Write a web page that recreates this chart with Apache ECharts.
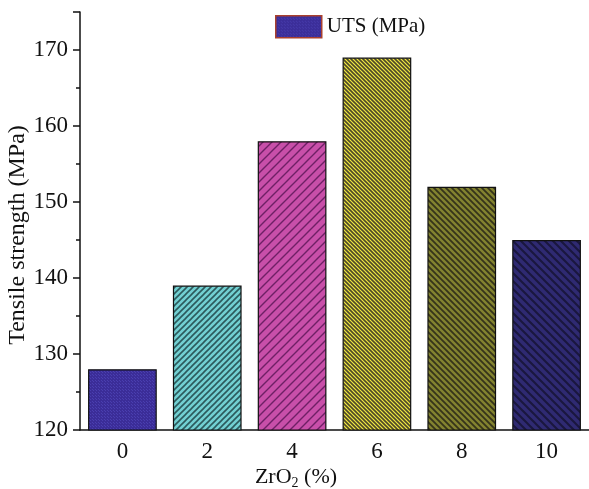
<!DOCTYPE html>
<html>
<head>
<meta charset="utf-8">
<style>
  html, body { margin: 0; padding: 0; background: #ffffff; }
  #chart { width: 589px; height: 489px; }
</style>
<script src="https://cdn.jsdelivr.net/npm/echarts@6/dist/echarts.min.js"></script>
</head>
<body>
<div id="chart"></div>
<script>
// ZrO2 content (%) and ultimate tensile strength (MPa)
const categories = ['0', '2', '4', '6', '8', '10'];
const utsValues = [128, 139, 158, 169, 152, 145];
const seriesName = 'UTS (MPa)';

// Hatch fills for each bar: base colour, line colour, tile period, line width, direction
const hatchSpecs = [
  { base: '#3b2d98', line: '#4a3fb0', period: 3, width: 1, dir: 'check' },
  { base: '#72d0d2', line: '#2c5a5c', period: 6, width: 1.6, dir: '/' },
  { base: '#c84fa9', line: '#6e2065', period: 9, width: 1.4, dir: '/' },
  { base: '#f2ea42', line: '#4e4828', period: 4, width: 1.6, dir: '\\' },
  { base: '#838330', line: '#36341a', period: 6, width: 1.8, dir: '\\' },
  { base: '#2f2a72', line: '#1a173e', period: 8, width: 2, dir: '\\' }
];

function makeHatch(spec) {
  const p = spec.period;
  const c = document.createElement('canvas');
  c.width = p; c.height = p;
  const g = c.getContext('2d');
  g.fillStyle = spec.base;
  g.fillRect(0, 0, p, p);
  if (spec.dir === 'check') {
    g.fillStyle = spec.line;
    g.fillRect(0, 0, 1, 1);
    g.fillRect(2, 2, 1, 1);
    return c;
  }
  g.strokeStyle = spec.line;
  g.lineWidth = spec.width;
  g.beginPath();
  if (spec.dir === '/') {
    g.moveTo(-1, p + 1); g.lineTo(p + 1, -1);
    g.moveTo(-1, 1); g.lineTo(1, -1);
    g.moveTo(p - 1, p + 1); g.lineTo(p + 1, p - 1);
  } else {
    g.moveTo(-1, -1); g.lineTo(p + 1, p + 1);
    g.moveTo(p - 1, -1); g.lineTo(p + 1, 1);
    g.moveTo(-1, p - 1); g.lineTo(1, p + 1);
  }
  g.stroke();
  return c;
}

const barData = utsValues.map((v, i) => ({
  value: v,
  itemStyle: { color: { image: makeHatch(hatchSpecs[i]), repeat: 'repeat' } }
}));

const font = "'Liberation Serif', 'Times New Roman', serif";
const chart = echarts.init(document.getElementById('chart'));

chart.setOption({
  backgroundColor: '#ffffff',
  animation: false,
  grid: { left: 80, right: -6, top: 12, bottom: 59 },
  legend: {
    data: [{
      name: seriesName,
      itemStyle: {
        color: { image: makeHatch(hatchSpecs[0]), repeat: 'repeat' },
        borderColor: '#a8402e',
        borderWidth: 1.5
      }
    }],
    left: 270,
    top: 10,
    itemWidth: 46,
    itemHeight: 22,
    itemGap: 6,
    icon: 'rect',
    textStyle: { fontFamily: font, fontSize: 21, color: '#111' }
  },
  xAxis: [
    {
      type: 'category',
      data: categories,
      axisLine: { lineStyle: { color: '#111', width: 1.5 } },
      axisTick: { alignWithLabel: true, length: 7, lineStyle: { color: '#111', width: 1.5 } },
      axisLabel: { fontFamily: font, fontSize: 23, color: '#111', margin: 10 }
    },
    {
      // boundary ticks between the categories
      type: 'category',
      data: categories,
      position: 'bottom',
      axisLine: { show: false },
      axisTick: { length: 4, lineStyle: { color: '#111', width: 1.5 } },
      axisLabel: { show: false }
    }
  ],
  yAxis: {
    type: 'value',
    min: 120,
    max: 175,
    interval: 10,
    splitLine: { show: false },
    axisLine: { show: true, lineStyle: { color: '#111', width: 1.5 } },
    axisTick: { show: true, length: 7, lineStyle: { color: '#111', width: 1.5 } },
    minorTick: { show: true, splitNumber: 2, length: 4, lineStyle: { color: '#111', width: 1.5 } },
    axisLabel: { fontFamily: font, fontSize: 23, color: '#111', margin: 12, showMaxLabel: false }
  },
  series: [{
    name: seriesName,
    type: 'bar',
    data: barData,
    barWidth: '81%',
    itemStyle: { borderColor: '#111', borderWidth: 1.2 }
  }],
  graphic: [
    {
      type: 'text',
      x: 18,
      y: 235,
      rotation: Math.PI / 2,
      style: {
        text: 'Tensile strength (MPa)',
        font: '24px ' + font,
        fill: '#111',
        align: 'center',
        verticalAlign: 'middle'
      }
    },
    {
      type: 'text',
      x: 296,
      y: 477,
      style: {
        text: '{b|ZrO}{s|2}{b| (%)}',
        rich: {
          b: { fontSize: 22, fontFamily: font, fill: '#111' },
          s: { fontSize: 14, fontFamily: font, fill: '#111', padding: [12, 0, 0, 0] }
        },
        align: 'center',
        verticalAlign: 'middle'
      }
    }
  ]
});
</script>
</body>
</html>
